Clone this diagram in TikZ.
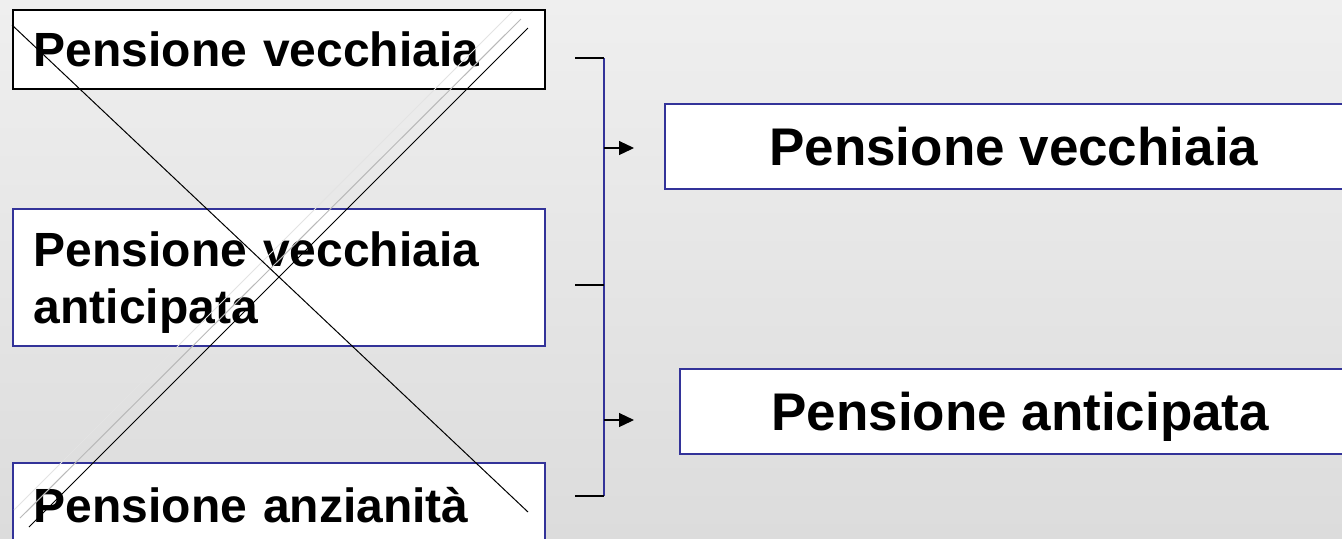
\documentclass[tikz,border=0pt]{standalone}
\usepackage{fontspec}
\setmainfont{Liberation Sans}
\usetikzlibrary{arrows.meta,positioning}
\definecolor{navy}{HTML}{333399}
\definecolor{bgtop}{HTML}{EFEFEF}
\definecolor{bgbot}{HTML}{DCDCDC}
\tikzset{
  oldbox/.style={draw=navy,line width=0.75pt,fill=white,align=left,anchor=north west,inner xsep=10.5pt,inner ysep=0pt,text width=245pt,font=\fontsize{24}{28.5}\selectfont\bfseries},
  newbox/.style={draw=navy,line width=0.75pt,fill=white,align=center,anchor=north west,inner sep=0pt,text depth=0pt,minimum height=42.5pt,font=\fontsize{26.5}{31}\selectfont\bfseries},
  tick/.style={draw=black,line width=0.6pt},
  bar/.style={draw=navy,line width=0.7pt},
  fl/.style={-{Triangle[length=7.5pt,width=7pt]},draw=black,line width=0.6pt},
  cross/.style={draw=black,line width=0.5pt},
}

\begin{document}
\begin{tikzpicture}[x=0.5pt,y=-0.5pt]
\clip (0,0) rectangle (1342,538);
\shade[top color=bgtop,bottom color=bgbot] (0,0) rectangle (1342,538);
% old forms, struck out
\node[oldbox,draw=black,minimum height=39.5pt] (pv) at (12,9) {Pensione vecchiaia};
\node[oldbox,minimum height=68.5pt] (pva) at (12,208) {Pensione vecchiaia\\\smash{anticipata}};
\node[oldbox,minimum height=42pt] (pa) at (12,462) {Pensione anzianità};
\draw[gray!22,line width=0.5pt] (513,11)--(14,510);
\draw[gray!55,line width=0.5pt] (521,19)--(20,518);
\draw[cross] (528,28)--(29,527);
\draw[cross] (12,25)--(528,512);
% new forms
\node[newbox,minimum width=349pt] (nv) at (664,103) {Pensione vecchiaia};
\node[newbox,minimum width=340.5pt] (na) at (679,368) {Pensione anticipata};
% bracket
\foreach \n/\y in {1/58,2/285,3/496} {
  \coordinate (t\n) at (575,\y);
  \coordinate (j\n) at (604,\y);
}
\draw[bar] (j1)--(j3);
\foreach \n in {1,2,3}
  \draw[tick] (t\n)--(j\n);
\coordinate (a1) at (604,148);
\coordinate (e1) at (634,148);
\coordinate (a2) at (604,420);
\coordinate (e2) at (634,420);
\draw[fl] (a1)--(e1);
\draw[fl] (a2)--(e2);
\end{tikzpicture}
\end{document}
